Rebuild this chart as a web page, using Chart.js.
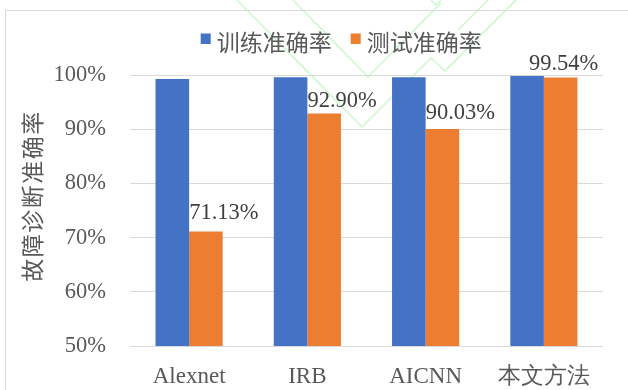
<!DOCTYPE html>
<html>
<head>
<meta charset="utf-8">
<script src="https://cdn.jsdelivr.net/npm/chart.js@4/dist/chart.umd.min.js"></script>
<style>
  html, body { margin: 0; padding: 0; background: #fff; overflow: hidden; }
  #wrap { position: absolute; left: 0; top: 0; width: 628px; height: 390px; }
</style>
</head>
<body>
<div id="wrap"><canvas id="accChart" width="628" height="390"></canvas></div>
<script>
const methods = ["Alexnet", "IRB", "AICNN", "本文方法"];
const trainAcc = [99.26, 99.6, 99.6, 99.8];
const testAcc = [71.13, 92.90, 90.03, 99.54];
const seriesNames = ["训练准确率", "测试准确率"];
const axisTitle = "故障诊断准确率";

// where each test label sits relative to its bar (left edge / top)
const labelShiftX = [0, 0, 0, -15];
const labelLift = [12, 6, 10, 7.5];

const serif = "'Liberation Serif', 'Times New Roman', serif";
const cjk = "'Noto Sans CJK SC', sans-serif";
const gray = "#595959";

// faint green stroke pattern in the background plus the outer frame
const backdrop = {
  id: "backdrop",
  beforeDraw(chart) {
    const ctx = chart.ctx;
    ctx.save();
    ctx.fillStyle = "#fff";
    ctx.fillRect(0, 0, chart.width, chart.height);
    ctx.strokeStyle = "rgba(160, 240, 160, 0.55)";
    ctx.lineWidth = 1.5;
    const paths = [
      [[237, 0], [362, 127], [431, 58], [445, 71], [516, 0]],
      [[293, 0], [368, 77], [441, 3]],
      [[431, 0], [436, 5], [441, 0]],
      [[458, 30], [488, 0]]
    ];
    for (const p of paths) {
      ctx.beginPath();
      ctx.moveTo(p[0][0], p[0][1]);
      for (const pt of p.slice(1)) ctx.lineTo(pt[0], pt[1]);
      ctx.stroke();
    }
    ctx.strokeStyle = "#d9d9d9";
    ctx.lineWidth = 1;
    ctx.strokeRect(5.5, 10.5, 700, 500);
    ctx.restore();
  }
};

const valueLabels = {
  id: "valueLabels",
  afterDatasetsDraw(chart) {
    const ctx = chart.ctx;
    const meta = chart.getDatasetMeta(1);
    ctx.save();
    ctx.font = "22.5px " + serif;
    ctx.fillStyle = "#404040";
    ctx.textAlign = "left";
    ctx.textBaseline = "alphabetic";
    meta.data.forEach((bar, i) => {
      const x = bar.x - bar.width / 2 + labelShiftX[i];
      ctx.fillText(testAcc[i].toFixed(2) + "%", x, bar.y - labelLift[i]);
    });
    ctx.restore();
  }
};

const legendAndTitle = {
  id: "legendAndTitle",
  afterDraw(chart) {
    const ctx = chart.ctx;
    ctx.save();
    ctx.font = "23px " + cjk;
    ctx.textBaseline = "middle";
    ctx.textAlign = "left";
    let x = 200.7;
    chart.data.datasets.forEach((ds, i) => {
      ctx.fillStyle = ds.backgroundColor;
      ctx.fillRect(x, 33.5, 10, 10.5);
      x += 16;
      ctx.fillStyle = gray;
      ctx.fillText(ds.label, x, 42.5);
      x += ctx.measureText(ds.label).width + 19;
    });

    ctx.translate(32.5, 196);
    ctx.rotate(-Math.PI / 2);
    ctx.textAlign = "center";
    ctx.letterSpacing = "1.5px";
    ctx.fillText(axisTitle, 0, 0);
    ctx.restore();
  }
};

new Chart(document.getElementById("accChart"), {
  type: "bar",
  data: {
    labels: methods,
    datasets: [
      { label: seriesNames[0], data: trainAcc, backgroundColor: "#4472C4" },
      { label: seriesNames[1], data: testAcc, backgroundColor: "#ED7D31" }
    ]
  },
  options: {
    responsive: false,
    animation: false,
    devicePixelRatio: 1,
    layout: { padding: { top: 75, right: 25, left: 0, bottom: 0 } },
    datasets: { bar: { barPercentage: 1, categoryPercentage: 0.568 } },
    plugins: { legend: { display: false }, tooltip: { enabled: false } },
    scales: {
      x: {
        grid: { display: false },
        border: { display: false },
        ticks: { color: gray, font: { family: serif, size: 23 }, padding: 9 },
        afterFit: (s) => { s.height = 44; }
      },
      y: {
        min: 50,
        max: 100,
        grid: { color: "#d9d9d9", lineWidth: 1, drawTicks: false },
        border: { display: false },
        ticks: {
          stepSize: 10,
          color: gray,
          font: { family: serif, size: 22.5 },
          padding: 24,
          callback: (v) => v + "%"
        },
        afterFit: (s) => { s.width = 130; }
      }
    }
  },
  plugins: [backdrop, valueLabels, legendAndTitle]
});
</script>
</body>
</html>
